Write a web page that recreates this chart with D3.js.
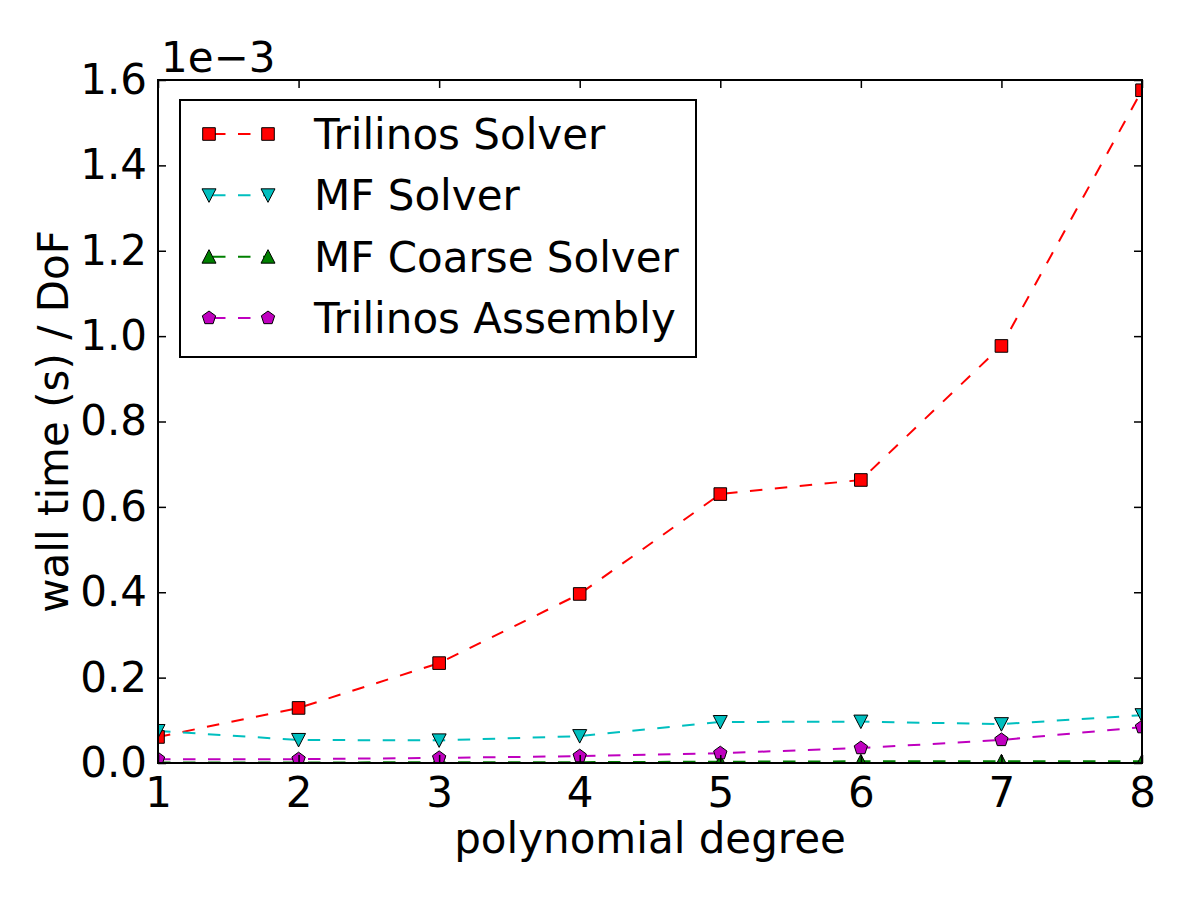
<!DOCTYPE html>
<html>
<head>
<meta charset="utf-8">
<script src="https://cdn.jsdelivr.net/npm/d3@7"></script>
<style>
  body { margin: 0; background: #fff; }
  svg { font-family: "DejaVu Sans", sans-serif; }
</style>
</head>
<body>
<svg id="chart" width="1200" height="900"></svg>
<script>
// polynomial degree
const degrees = [1, 2, 3, 4, 5, 6, 7, 8];
// wall time (s) / DoF, in units of 1e-3
const trilinosSolver = [0.061, 0.129, 0.234, 0.396, 0.630, 0.663, 0.977, 1.576];
const mfSolver = [0.075, 0.054, 0.053, 0.063, 0.096, 0.097, 0.091, 0.112];
const mfCoarseSolver = [0.001, 0.001, 0.002, 0.002, 0.003, 0.004, 0.004, 0.004];
const trilinosAssembly = [0.009, 0.009, 0.012, 0.016, 0.023, 0.035, 0.054, 0.084];
const seriesNames = ["Trilinos Solver", "MF Solver", "MF Coarse Solver", "Trilinos Assembly"];
const yTicks = [0.0, 0.2, 0.4, 0.6, 0.8, 1.0, 1.2, 1.4, 1.6];

const series = [
    { name: seriesNames[0], values: trilinosSolver, color: "#ff0000", marker: "square" },
    { name: seriesNames[1], values: mfSolver, color: "#00bfbf", marker: "tri_down" },
    { name: seriesNames[2], values: mfCoarseSolver, color: "#008000", marker: "tri_up" },
    { name: seriesNames[3], values: trilinosAssembly, color: "#bf00bf", marker: "pentagon" }
];

const svg = d3.select("#chart");
const plotLeft = 158, plotRight = 1142, plotTop = 80, plotBottom = 763;
const fontSize = 42;

const x = d3.scaleLinear().domain([1, 8]).range([plotLeft, plotRight]);
const y = d3.scaleLinear().domain([0, 1.6]).range([plotBottom, plotTop]);

function markerPath(type) {
    const r = 6.3;
    if (type == "square") return `M${-r},${-r}H${r}V${r}H${-r}Z`;
    if (type == "tri_down") return `M${-7},${-6.5}L${7},${-6.5}L0,${7}Z`;
    if (type == "tri_up") return `M${-7},${6.5}L${7},${6.5}L0,${-7}Z`;
    // pentagon
    const pts = d3.range(5).map(i => {
        const a = -Math.PI / 2 + i * 2 * Math.PI / 5;
        return [7 * Math.cos(a), 7 * Math.sin(a)];
    });
    return "M" + pts.map(p => p.join(",")).join("L") + "Z";
}

svg.append("defs").append("clipPath").attr("id", "plotclip")
    .append("rect")
    .attr("x", plotLeft).attr("y", plotTop)
    .attr("width", plotRight - plotLeft).attr("height", plotBottom - plotTop);

const plot = svg.append("g").attr("clip-path", "url(#plotclip)");

const line = d3.line()
    .x((d, i) => x(degrees[i]))
    .y(d => y(d));

for (const s of series) {
    plot.append("path")
        .attr("d", line(s.values))
        .attr("fill", "none")
        .attr("stroke", s.color)
        .attr("stroke-width", 2)
        .attr("stroke-dasharray", "12.5,12.5");
}
for (const s of series) {
    plot.selectAll(null)
        .data(s.values)
        .enter()
        .append("path")
        .attr("d", markerPath(s.marker))
        .attr("transform", (d, i) => `translate(${x(degrees[i])},${y(d)})`)
        .attr("fill", s.color)
        .attr("stroke", "#000")
        .attr("stroke-width", 1);
}

// frame
svg.append("rect")
    .attr("x", plotLeft).attr("y", plotTop)
    .attr("width", plotRight - plotLeft).attr("height", plotBottom - plotTop)
    .attr("fill", "none").attr("stroke", "#000").attr("stroke-width", 2);

// ticks (inside, all four sides)
const tickLen = 8;
const xAxisBottom = d3.axisBottom(x).tickValues(degrees).tickSizeInner(-tickLen).tickSizeOuter(0).tickPadding(14).tickFormat(d3.format("d"));
const xAxisTop = d3.axisTop(x).tickValues(degrees).tickSizeInner(-tickLen).tickSizeOuter(0).tickFormat("");
const yAxisLeft = d3.axisLeft(y).tickValues(yTicks).tickSizeInner(-tickLen).tickSizeOuter(0).tickPadding(11).tickFormat(d3.format(".1f"));
const yAxisRight = d3.axisRight(y).tickValues(yTicks).tickSizeInner(-tickLen).tickSizeOuter(0).tickFormat("");

const axes = [
    svg.append("g").attr("transform", `translate(0,${plotBottom})`).call(xAxisBottom),
    svg.append("g").attr("transform", `translate(0,${plotTop})`).call(xAxisTop),
    svg.append("g").attr("transform", `translate(${plotLeft},0)`).call(yAxisLeft),
    svg.append("g").attr("transform", `translate(${plotRight},0)`).call(yAxisRight)
];
for (const a of axes) {
    a.select(".domain").remove();
    a.selectAll(".tick line").attr("stroke", "#000").attr("stroke-width", 1.5);
    a.selectAll(".tick text")
        .attr("fill", "#000")
        .style("font-size", fontSize + "px")
        .style("font-family", "DejaVu Sans, sans-serif");
}

// offset text
svg.append("text")
    .attr("x", 161)
    .attr("y", 72)
    .style("font-size", fontSize + "px")
    .text("1e\u22123");

// axis labels
svg.append("text")
    .attr("x", (plotLeft + plotRight) / 2)
    .attr("y", 853)
    .attr("text-anchor", "middle")
    .style("font-size", fontSize + "px")
    .text("polynomial degree");

svg.append("text")
    .attr("transform", `translate(68,${(plotTop + plotBottom) / 2}) rotate(-90)`)
    .attr("text-anchor", "middle")
    .style("font-size", fontSize + "px")
    .text("wall time (s) / DoF");

// legend
const legend = svg.append("g");
legend.append("rect")
    .attr("x", 180).attr("y", 100)
    .attr("width", 516).attr("height", 257)
    .attr("fill", "#fff").attr("stroke", "#000").attr("stroke-width", 2);

const rowY = d3.scalePoint().domain(seriesNames).range([134, 318]);
for (const s of series) {
    const g = legend.append("g").attr("transform", `translate(0,${rowY(s.name)})`);
    g.append("line")
        .attr("x1", 209).attr("x2", 268)
        .attr("stroke", s.color).attr("stroke-width", 2)
        .attr("stroke-dasharray", "12.5,12.5")
        .attr("stroke-dashoffset", -4);
    for (const mx of [209, 268]) {
        g.append("path")
            .attr("d", markerPath(s.marker))
            .attr("transform", `translate(${mx},0)`)
            .attr("fill", s.color).attr("stroke", "#000").attr("stroke-width", 1);
    }
    g.append("text")
        .attr("x", 314)
        .attr("dy", "0.36em")
        .style("font-size", fontSize + "px")
        .text(s.name);
}
</script>
</body>
</html>
